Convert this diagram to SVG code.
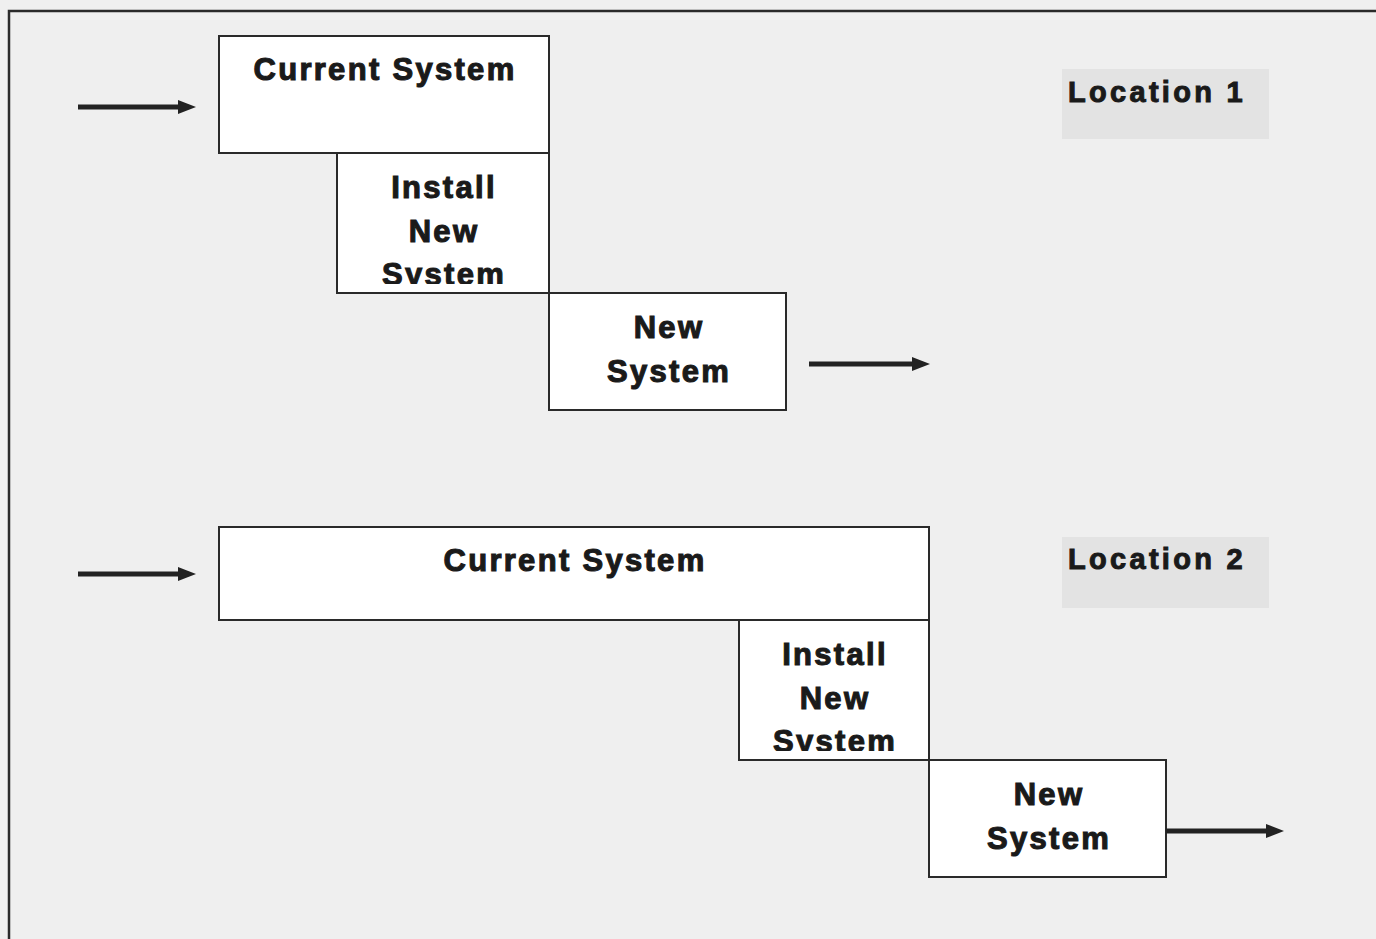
<svg xmlns="http://www.w3.org/2000/svg" width="1376" height="939" viewBox="0 0 1376 939">
<defs>
<style>
.bg{fill:#efefef}
.frame{fill:none;stroke:#2a2a2a;stroke-width:2.5}
.box{fill:#ffffff;stroke:#2a2a2a;stroke-width:2}
.lbl{fill:#e3e3e3}
.t{font-family:"Liberation Sans",Arial,sans-serif;font-weight:bold;font-size:31px;letter-spacing:2.3px;fill:#1a1a1a;stroke:#1a1a1a;stroke-width:1.1px;text-anchor:middle}
.loc{font-family:"Liberation Sans",Arial,sans-serif;font-weight:bold;font-size:29px;letter-spacing:3.3px;fill:#1a1a1a;stroke:#1a1a1a;stroke-width:1px}
.arr{stroke:#222;stroke-width:5;fill:none}
</style>
<marker id="ah" markerWidth="18" markerHeight="14" refX="3" refY="7" orient="auto" markerUnits="userSpaceOnUse">
<path d="M0,0 L18,7 L0,14 Z" fill="#222"/>
</marker>
<clipPath id="c1"><rect x="337" y="153" width="212" height="131"/></clipPath>
<clipPath id="c2"><rect x="739" y="620" width="190" height="131"/></clipPath>
</defs>
<rect class="bg" x="0" y="0" width="1376" height="939"/>
<path class="frame" d="M9,939 L9,11 L1376,11"/>

<g id="loc1-label">
<rect class="lbl" x="1062" y="69" width="207" height="70"/>
<text class="loc" x="1068" y="102">Location 1</text>
</g>
<g id="loc2-label">
<rect class="lbl" x="1062" y="537" width="207" height="71"/>
<text class="loc" x="1068" y="569">Location 2</text>
</g>

<g id="l1-current">
<rect class="box" x="219" y="36" width="330" height="117"/>
<text class="t" x="385" y="80">Current System</text>
</g>
<g id="l1-install">
<rect class="box" x="337" y="153" width="212" height="140"/>
<g clip-path="url(#c1)">
<text class="t" x="444" y="198">Install</text>
<text class="t" x="444" y="242">New</text>
<text class="t" x="444" y="285">System</text>
</g>
</g>
<g id="l1-new">
<rect class="box" x="549" y="293" width="237" height="117"/>
<text class="t" x="669" y="338">New</text>
<text class="t" x="669" y="382">System</text>
</g>

<g id="l2-current">
<rect class="box" x="219" y="527" width="710" height="93"/>
<text class="t" x="575" y="571">Current System</text>
</g>
<g id="l2-install">
<rect class="box" x="739" y="620" width="190" height="140"/>
<g clip-path="url(#c2)">
<text class="t" x="835" y="665">Install</text>
<text class="t" x="835" y="709">New</text>
<text class="t" x="835" y="752">System</text>
</g>
</g>
<g id="l2-new">
<rect class="box" x="929" y="760" width="237" height="117"/>
<text class="t" x="1049" y="805">New</text>
<text class="t" x="1049" y="849">System</text>
</g>

<g id="connectors">
<line class="arr" x1="78" y1="107" x2="181" y2="107" marker-end="url(#ah)"/>
<line class="arr" x1="809" y1="364" x2="915" y2="364" marker-end="url(#ah)"/>
<line class="arr" x1="78" y1="574" x2="181" y2="574" marker-end="url(#ah)"/>
<line class="arr" x1="1166" y1="831" x2="1269" y2="831" marker-end="url(#ah)"/>
</g>
</svg>
